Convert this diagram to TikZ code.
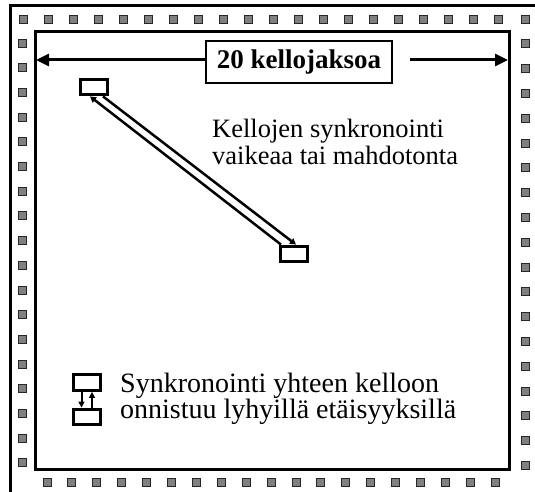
\documentclass[tikz,border=0pt]{standalone}
\usepackage{fontspec}
\setmainfont{Liberation Serif}
\usetikzlibrary{arrows.meta}
\begin{document}
\begin{tikzpicture}[x=1pt,y=-1pt,
  frame/.style={line width=3pt},
  pad/.style={draw=black!85, fill=black!50, line width=0.9pt, minimum size=8pt, inner sep=0pt},
  unit/.style={draw, line width=3.3pt, minimum width=27.5pt, minimum height=15.5pt, inner sep=0pt},
  label/.style={draw, line width=2.8pt, minimum width=186pt, minimum height=42pt, inner sep=0pt,
    font=\fontsize{27}{28}\selectfont\bfseries},
  note/.style={align=left, inner sep=0pt, anchor=base west},
  span/.style={line width=3pt, -{Triangle[length=13pt,width=12pt]}},
  link/.style={line width=2.5pt, -{Triangle[length=6pt,width=6.5pt]}},
  tie/.style={line width=2pt, -{Triangle[length=6pt,width=6pt]}}]
\useasboundingbox (0,0) rectangle (535,492);
\fill[white] (0,0) rectangle (535,492);

% chip outline (package edge)
\draw[frame] (10,492) -- (10,6) -- (535,6);

% pads: top row, left and right columns, bottom row
\foreach \i in {0,...,19} \node[pad] at (23+25*\i,19) {};
\foreach \i in {0,...,18} \node[pad] at (525,19+24.8*\i) {};
\foreach \i in {1,...,18} \node[pad] at (22,18.3+24.7*\i) {};
\foreach \i in {0,...,18} \node[pad] at (47+24.9*\i,482) {};

% die
\draw[frame] (35,32) rectangle (509,469);
\coordinate (dieW) at (36,60);
\coordinate (dieE) at (508,60);

% clock period label with span arrows
\node[label] (per) at (299,62) {20 kellojaksoa};
\coordinate (rstart) at (410,60);
\draw[span] (per.west |- dieW) -- (dieW);
\draw[span] (rstart) -- (dieE);

% distant units
\node[unit] (u1) at (94,87) {};
\node[unit] (u2) at (294,254) {};
\draw[link] ([xshift=-13pt]u2.north) -- ([xshift=-4pt]u1.south);
\draw[link] ([xshift=9pt]u1.south) -- ([xshift=2pt]u2.north);
\node[note, font=\fontsize{26.5}{26}\selectfont] (t1) at (212,164)
  {Kellojen synkronointi\\vaikeaa tai mahdotonta};

% neighbouring units
\node[unit] (n1) at (87,382.5) {};
\node[unit] (n2) at (87,417) {};
\draw[tie] ([xshift=-5.5pt]n1.south) -- ([xshift=-5.5pt]n2.north);
\draw[tie] ([xshift=5pt]n2.north) -- ([xshift=5pt]n1.south);
\node[note, font=\fontsize{28}{26}\selectfont] (t2) at (120,418)
  {Synkronointi yhteen kelloon\\onnistuu lyhyillä etäisyyksillä};
\end{tikzpicture}
\end{document}
